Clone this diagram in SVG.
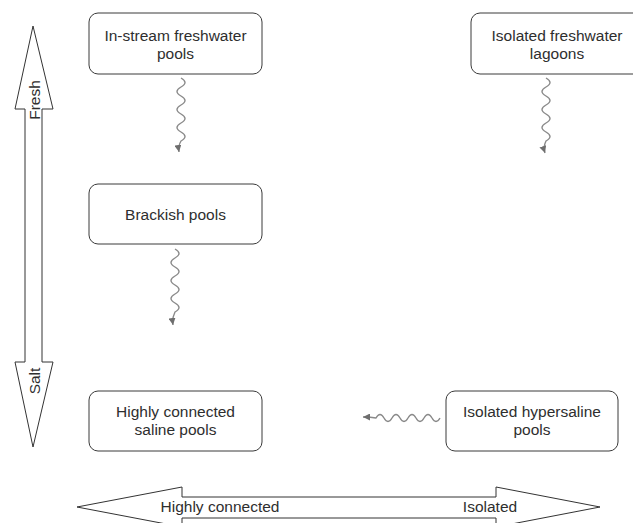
<svg xmlns="http://www.w3.org/2000/svg" width="633" height="523" viewBox="0 0 633 523">
  <style>
    .box { fill: #ffffff; stroke: #3a3a3a; stroke-width: 1; }
    .lbl { font-family: "Liberation Sans", Arial, sans-serif; font-size: 15.5px; fill: #2e2e2e; text-anchor: middle; }
    .axis { fill: #ffffff; stroke: #333333; stroke-width: 1; stroke-linejoin: miter; }
    .wave { fill: none; stroke: #8a8a8a; stroke-width: 1.4; }
  </style>
  <defs>
    <marker id="tip" viewBox="0 0 8 8" refX="8" refY="4" markerWidth="7" markerHeight="7" markerUnits="userSpaceOnUse" orient="auto">
      <path d="M0,0 L8,4 L0,8 z" fill="#6e6e6e"/>
    </marker>
  </defs>

  <!-- salinity axis -->
  <g id="salinity-axis">
    <polygon class="axis" points="33,26 53,109 42,109 42,362 53,362 33,447 15,362 25,362 25,109 15,109"/>
    <text class="lbl" transform="translate(39.5,100) rotate(-90)">Fresh</text>
    <text class="lbl" transform="translate(39.5,381) rotate(-90)">Salt</text>
  </g>

  <!-- connectivity axis -->
  <g id="connectivity-axis">
    <polygon class="axis" points="77,507 182,487 182,497 496,497 496,487 600,507 496,527 496,518 182,518 182,527"/>
    <text class="lbl" x="220" y="512">Highly connected</text>
    <text class="lbl" x="490" y="512">Isolated</text>
  </g>

  <g id="instream-freshwater">
    <rect class="box" x="89" y="13" width="173" height="61" rx="9"/>
    <text class="lbl" x="175.5" y="41">In-stream freshwater</text>
    <text class="lbl" x="175.5" y="58.5">pools</text>
  </g>

  <g id="isolated-freshwater">
    <rect class="box" x="471" y="13" width="173" height="61" rx="9"/>
    <text class="lbl" x="557" y="41">Isolated freshwater</text>
    <text class="lbl" x="557" y="58.5">lagoons</text>
  </g>

  <g id="brackish">
    <rect class="box" x="89" y="184" width="173" height="60" rx="9"/>
    <text class="lbl" x="175.5" y="220">Brackish pools</text>
  </g>

  <g id="connected-saline">
    <rect class="box" x="89" y="391" width="173" height="60" rx="9"/>
    <text class="lbl" x="175.5" y="417">Highly connected</text>
    <text class="lbl" x="175.5" y="435">saline pools</text>
  </g>

  <g id="isolated-hypersaline">
    <rect class="box" x="446" y="391" width="172" height="60" rx="9"/>
    <text class="lbl" x="532" y="417">Isolated hypersaline</text>
    <text class="lbl" x="532" y="435">pools</text>
  </g>

  <!-- wavy transition connectors -->
  <g id="connectors">
    <path class="wave" marker-end="url(#tip)" d="M181,78 q8,4.5 0,9 t0,9 t0,9 t0,9 t0,9 t0,9 t0,9 q-3,5 -2,11"/>
    <path class="wave" marker-end="url(#tip)" d="M546,78 q8,4.5 0,9 t0,9 t0,9 t0,9 t0,9 t0,9 t0,9 q-3,6 -1,12"/>
    <path class="wave" marker-end="url(#tip)" d="M175,249 q8,4.5 0,9 t0,9 t0,9 t0,9 t0,9 t0,9 t0,9 q-3,6 -2,13"/>
    <path class="wave" marker-end="url(#tip)" d="M440,418 q-4,7 -8,0 t-8,0 t-8,0 t-8,0 t-8,0 t-8,0 t-8,0 t-8,0 q-5,-1 -13,-1"/>
  </g>
</svg>
